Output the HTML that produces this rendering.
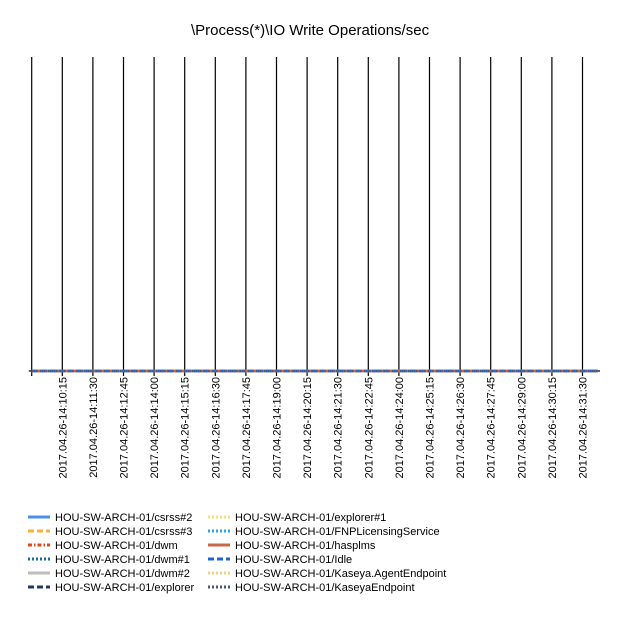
<!DOCTYPE html>
<html><head><meta charset="utf-8"><style>
body{margin:0;background:#fff;}
svg{display:block;font-family:"Liberation Sans",Arial,sans-serif;}
</style></head><body>
<svg id="chart" width="620" height="620">
<text x="310" y="35" text-anchor="middle" font-size="15" fill="#000">\Process(*)\IO Write Operations/sec</text>
<g id="grid"></g><g id="series"></g><g id="xlabels"></g><g id="legend"></g>
</svg>
<script>
const categories=["2017.04.26-14:10:15","2017.04.26-14:11:30","2017.04.26-14:12:45","2017.04.26-14:14:00","2017.04.26-14:15:15","2017.04.26-14:16:30","2017.04.26-14:17:45","2017.04.26-14:19:00","2017.04.26-14:20:15","2017.04.26-14:21:30","2017.04.26-14:22:45","2017.04.26-14:24:00","2017.04.26-14:25:15","2017.04.26-14:26:30","2017.04.26-14:27:45","2017.04.26-14:29:00","2017.04.26-14:30:15","2017.04.26-14:31:30"];
const seriesNames=["HOU-SW-ARCH-01/csrss#2","HOU-SW-ARCH-01/csrss#3","HOU-SW-ARCH-01/dwm","HOU-SW-ARCH-01/dwm#1","HOU-SW-ARCH-01/dwm#2","HOU-SW-ARCH-01/explorer","HOU-SW-ARCH-01/explorer#1","HOU-SW-ARCH-01/FNPLicensingService","HOU-SW-ARCH-01/hasplms","HOU-SW-ARCH-01/Idle","HOU-SW-ARCH-01/Kaseya.AgentEndpoint","HOU-SW-ARCH-01/KaseyaEndpoint"];
const seriesColors=["#4a8fe8","#f5b13c","#e0481a","#1a6a9a","#bdbdbd","#1f3a63","#fbe07a","#2aa5e6","#c8684a","#1a66d8","#f3d07e","#4a5870"];
const seriesDash=["","6,3","4,2,1.5,2","2,2","","6,3","2,2","2,2","","6,3","2,2","2,2"];
const values=seriesNames.map(()=>[0,0,0,0,0,0,0,0,0,0,0,0,0,0,0,0,0,0]);
const yMax=1;
const NS="http://www.w3.org/2000/svg";
const x0=31.7,xFirst=62.3,step=30.6,yTop=57,yBase=371,xEnd=600;
const xs=i=>xFirst+i*step;
const ys=v=>yBase-(v/yMax)*(yBase-yTop);
function mk(t,a,p){const e=document.createElementNS(NS,t);for(const k in a)e.setAttribute(k,a[k]);p.appendChild(e);return e;}
const grid=document.getElementById('grid');
let l=mk('line',{x1:x0,y1:yTop,x2:x0,y2:yBase+5,stroke:'#000','stroke-width':1.2},grid);


l=mk('line',{x1:x0-3,y1:yBase,x2:xEnd,y2:yBase,stroke:'#000','stroke-width':1.2},grid);


categories.forEach((c,i)=>{
 const g=mk('line',{x1:xs(i),y1:yTop,x2:xs(i),y2:yBase+5,stroke:'#000','stroke-width':1.2},grid);
 
 
 const t=mk('text',{x:0,y:0,transform:`translate(${xs(i)+4},377) rotate(-90)`,'text-anchor':'end','font-size':11,fill:'#000'},document.getElementById('xlabels'));
 t.textContent=c;
 
 
});
const sg=document.getElementById('series');
values.forEach((vals,s)=>{
 const pts=vals.map((v,i)=>`${xs(i)},${ys(v)}`);
 pts.unshift(`${x0},${ys(vals[0])}`);pts.push(`${xEnd-2},${ys(vals[vals.length-1])}`);
 const p=mk('polyline',{points:pts.join(' '),fill:'none',stroke:seriesColors[s],'stroke-width':2.5,'stroke-dasharray':seriesDash[s]},sg);
 
 
});
const lg=document.getElementById('legend');
seriesNames.forEach((n,s)=>{
 const col=Math.floor(s/6),row=s%6;
 const lx=col?208:28,ly=517+row*14;
 const g=mk('g',{},lg);
 
 
 mk('line',{x1:lx,y1:ly,x2:lx+22,y2:ly,stroke:seriesColors[s],'stroke-width':3,'stroke-dasharray':seriesDash[s]},g);
 const t=mk('text',{x:lx+27,y:ly+4,'font-size':11,fill:'#000'},g);
 t.textContent=n;
});
</script>
</body></html>
